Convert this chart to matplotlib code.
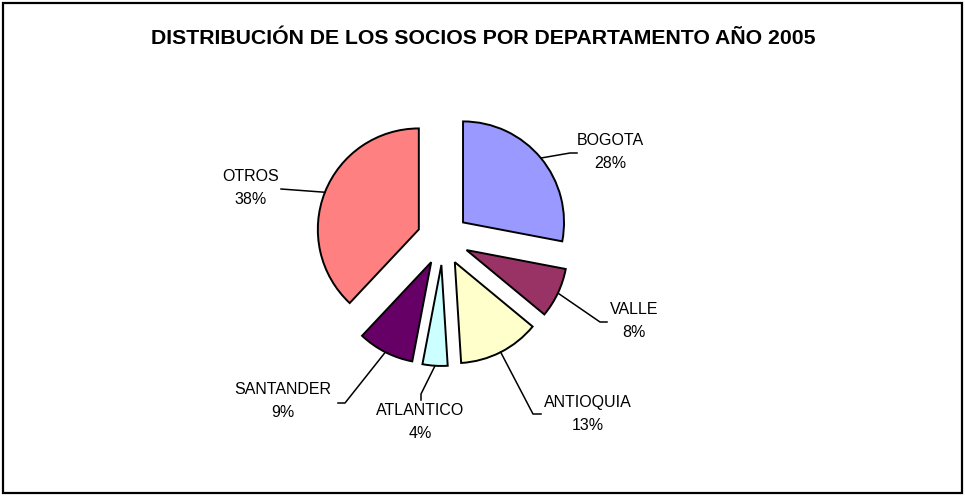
import numpy as np
import matplotlib
matplotlib.use('Agg')
import matplotlib.pyplot as plt
from matplotlib.patches import Rectangle

plt.rcParams['font.family'] = ['Liberation Sans', 'DejaVu Sans']

# data
departamentos = ['BOGOTA', 'VALLE', 'ANTIOQUIA', 'ATLANTICO', 'SANTANDER', 'OTROS']
porcentajes = [28, 8, 13, 4, 9, 38]
colores = ['#9999FF', '#993366', '#FFFFCC', '#CCFFFF', '#660066', '#FF8080']
titulo = 'DISTRIBUCIÓN DE LOS SOCIOS POR DEPARTAMENTO AÑO 2005'

# layout (pixels, y measured from top)
W, H = 965, 496
centro = (443, 239)
radio = 101
separacion = 26  # how far each slice is pulled out, px
texto_pos = [(610, 152), (634, 321), (588, 414), (420, 422), (283, 401), (251, 188)]
codo_pos = [(570, 153), (600, 322), (533, 414), (421, 394), (345, 403), (281, 189)]
cola_pos = [(577, 153), (607, 322), (541, 414), (421, 400), (338, 403), (281, 189)]

fig = plt.figure(figsize=(W / 100, H / 100), dpi=100)
ax = fig.add_axes([0, 0, 1, 1])

# figure border
ax.add_patch(Rectangle((3, 3), W - 6, H - 6, fill=False, edgecolor='black', linewidth=1.6))

ax.text(483, H - 38, titulo, ha='center', va='center', fontsize=15.3, fontweight='bold')

wedges, _ = ax.pie(porcentajes, colors=colores, startangle=90, counterclock=False,
                   center=(centro[0], H - centro[1]), radius=radio,
                   explode=[separacion] * len(porcentajes),
                   wedgeprops=dict(edgecolor='black', linewidth=1.4), frame=True)
ax.set_xlim(0, W)
ax.set_ylim(0, H)
ax.set_aspect('equal')
ax.axis('off')

for w, nombre, pct, tp, cp, kp in zip(wedges, departamentos, porcentajes, texto_pos, codo_pos, cola_pos):
    mid = np.deg2rad((w.theta1 + w.theta2) / 2)
    ax_x = w.center[0] + w.r * np.cos(mid)
    ax_y = w.center[1] + w.r * np.sin(mid)
    ax.plot([ax_x, cp[0], kp[0]], [ax_y, H - cp[1], H - kp[1]], color='black', linewidth=1.1)
    ax.text(tp[0], H - tp[1], f'{nombre}\n{pct}%', ha='center', va='center',
            fontsize=11.5, linespacing=1.65)

fig.savefig('out.png', dpi=100)
